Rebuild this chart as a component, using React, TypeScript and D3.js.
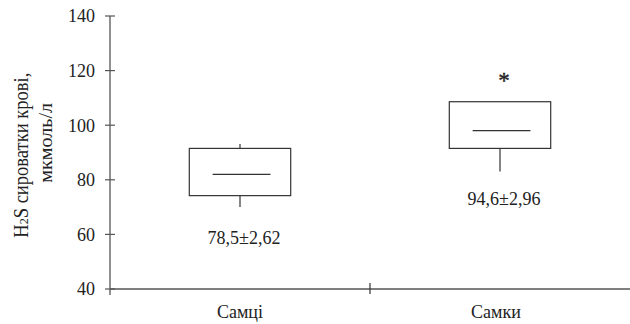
import React from 'react';
import * as d3 from 'd3';

// values
const categories = ['Самці', 'Самки'];
const whiskerLow = [70, 83];
const q1 = [74.2, 91.5];
const median = [82, 98];
const q3 = [91.5, 108.6];
const whiskerHigh = [93.1, 108.6];
const meanLabels = ['78,5±2,62', '94,6±2,96'];
const marks = ['', '*'];
const yTicks = [40, 60, 80, 100, 120, 140];

const App = () => {
  const width = 630;
  const height = 324;
  const margin = { top: 16, right: 0, bottom: 35, left: 110 };
  const font = "'Liberation Serif', 'Times New Roman', serif";

  const x = d3.scaleBand()
    .domain(categories)
    .range([margin.left, width])
    .paddingInner(0)
    .paddingOuter(0);

  const y = d3.scaleLinear()
    .domain([40, 140])
    .range([height - margin.bottom, margin.top]);

  const boxW = x.bandwidth() * 0.39;
  const axisColor = '#555';
  const y0 = y(40);

  return (
    <svg width={width} height={height}
      style={{ position: 'absolute', left: 0, top: 0, background: '#fff', fontFamily: font }}>
      {/* y axis */}
      <line x1={margin.left} x2={margin.left} y1={y(140)} y2={y0 + 6} stroke={axisColor} strokeWidth={1.3} />
      {yTicks.map(t => (
        <g key={t}>
          <line x1={margin.left - 5} x2={margin.left + 5} y1={y(t)} y2={y(t)} stroke={axisColor} strokeWidth={1.2} />
          <text x={margin.left - 15} y={y(t)} dy="0.35em" textAnchor="end" fontSize={18} fill="#222">{t}</text>
        </g>
      ))}
      {/* x axis */}
      <line x1={margin.left} x2={width} y1={y0} y2={y0} stroke={axisColor} strokeWidth={1.3} />
      {categories.slice(1).map(c => (
        <line key={c} x1={x(c)} x2={x(c)} y1={y0 - 6} y2={y0 + 5} stroke="#333" strokeWidth={1.2} />
      ))}
      {categories.map((c, i) => (
        <text key={c} x={(x(c) as number) + x.bandwidth() / 2 - i * 4} y={y0 + 29} textAnchor="middle" fontSize={18} fill="#222">{c}</text>
      ))}

      {/* boxes */}
      {categories.map((c, i) => {
        const cx = (x(c) as number) + x.bandwidth() / 2;
        return (
          <g key={c} stroke="#333" strokeWidth={1.2} fill="none">
            <line x1={cx} x2={cx} y1={y(whiskerHigh[i])} y2={y(q3[i])} />
            <line x1={cx} x2={cx} y1={y(q1[i])} y2={y(whiskerLow[i])} />
            <rect x={cx - boxW / 2} y={y(q3[i])} width={boxW} height={y(q1[i]) - y(q3[i])} fill="#fff" />
            <line x1={cx - boxW * 0.27} x2={cx + boxW * 0.3} y1={y(median[i])} y2={y(median[i])} />
            <text x={cx + 4} y={y(whiskerLow[i]) + 37 - i * 4} textAnchor="middle" fontSize={18}
              fill="#222" stroke="none">{meanLabels[i]}</text>
            {marks[i] && (
              <text x={cx + 4} y={y(q3[i]) - 14} textAnchor="middle" fontSize={23} fill="#222" stroke="#222"
                strokeWidth={0.4}>{marks[i]}</text>
            )}
          </g>
        );
      })}

      {/* y title */}
      <text transform={`translate(28,${y(89)}) rotate(-90)`} textAnchor="middle" fontSize={20}
        textLength={165} lengthAdjust="spacingAndGlyphs" fill="#222">
        H<tspan fontSize={13}>2</tspan>S сироватки крові,
      </text>
      <text transform={`translate(52,${y(89.5) - 11}) rotate(-90)`} textAnchor="middle" fontSize={19}
        textLength={80} lengthAdjust="spacingAndGlyphs" fill="#222">мкмоль/л</text>
    </svg>
  );
};

export default App;
